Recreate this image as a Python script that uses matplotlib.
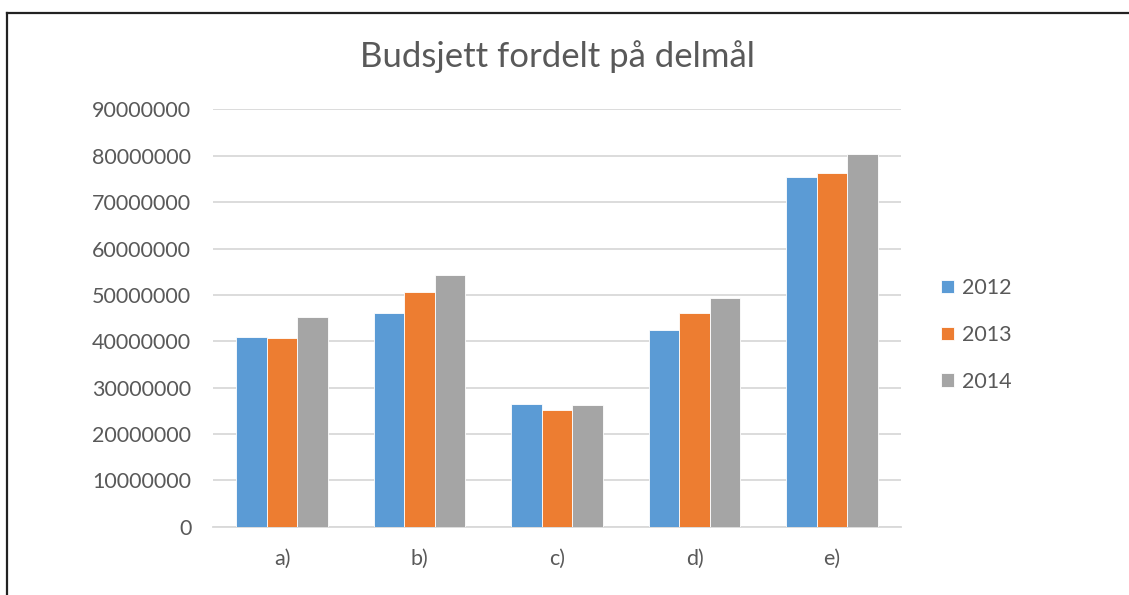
import numpy as np
import matplotlib
matplotlib.use("Agg")
import matplotlib.pyplot as plt
from matplotlib.lines import Line2D

plt.rcParams['font.family'] = ['Lato', 'DejaVu Sans']

categories = ['a)', 'b)', 'c)', 'd)', 'e)']
years = ['2012', '2013', '2014']
values_2012 = [40900000, 46000000, 26500000, 42400000, 75400000]
values_2013 = [40600000, 50700000, 25200000, 46000000, 76300000]
values_2014 = [45200000, 54200000, 26300000, 49400000, 80400000]
yticks = [0, 10000000, 20000000, 30000000, 40000000, 50000000, 60000000, 70000000, 80000000, 90000000]

colors = ['#5b9bd5', '#ed7d31', '#a5a5a5']
text_color = '#595959'
grid_color = '#d9d9d9'

fig = plt.figure(figsize=(11.29, 5.95), dpi=100)
ax = fig.add_axes([0.1891, 0.1148, 0.6087, 0.7012])

x = np.arange(len(categories))
width = 1 / 4.5
series = [values_2012, values_2013, values_2014]
for i, (vals, year) in enumerate(zip(series, years)):
    ax.bar(x + (i - 1) * width, vals, width, color=colors[i], label=year,
           edgecolor='white', linewidth=0.6, zorder=3)

ax.set_xlim(-0.5, len(categories) - 0.5)
ax.set_ylim(0, 90000000)
ax.set_yticks(yticks)
ax.set_yticklabels([str(v) for v in yticks])
ax.set_xticks(x)
ax.set_xticklabels(categories)
ax.yaxis.grid(True, color=grid_color, linewidth=1.3, zorder=0)
ax.tick_params(axis='both', length=0, labelsize=15.5, colors=text_color)
ax.tick_params(axis='y', pad=16)
ax.tick_params(axis='x', pad=16)
for s in ['top', 'right', 'left']:
    ax.spines[s].set_visible(False)
ax.spines['bottom'].set_color(grid_color)
ax.spines['bottom'].set_linewidth(1.3)

fig.text(0.4938, 0.905, 'Budsjett fordelt på delmål', ha='center', va='center',
         fontsize=25, color=text_color)

leg = ax.legend(loc='center left', bbox_to_anchor=(1.03, 0.4595), frameon=False,
                handlelength=0.6, handleheight=0.6, handletextpad=0.4,
                labelspacing=1.25, fontsize=15.5)
for t in leg.get_texts():
    t.set_color(text_color)

# border (top and left edges visible in the crop)
fig.add_artist(Line2D([0.0058, 1.0], [1 - 12.5 / 595, 1 - 12.5 / 595], color='#222222',
                      linewidth=1.6, transform=fig.transFigure))
fig.add_artist(Line2D([6.5 / 1129, 6.5 / 1129], [0.0, 1 - 12.5 / 595], color='#222222',
                      linewidth=1.6, transform=fig.transFigure))

fig.savefig('out.png', dpi=100)
